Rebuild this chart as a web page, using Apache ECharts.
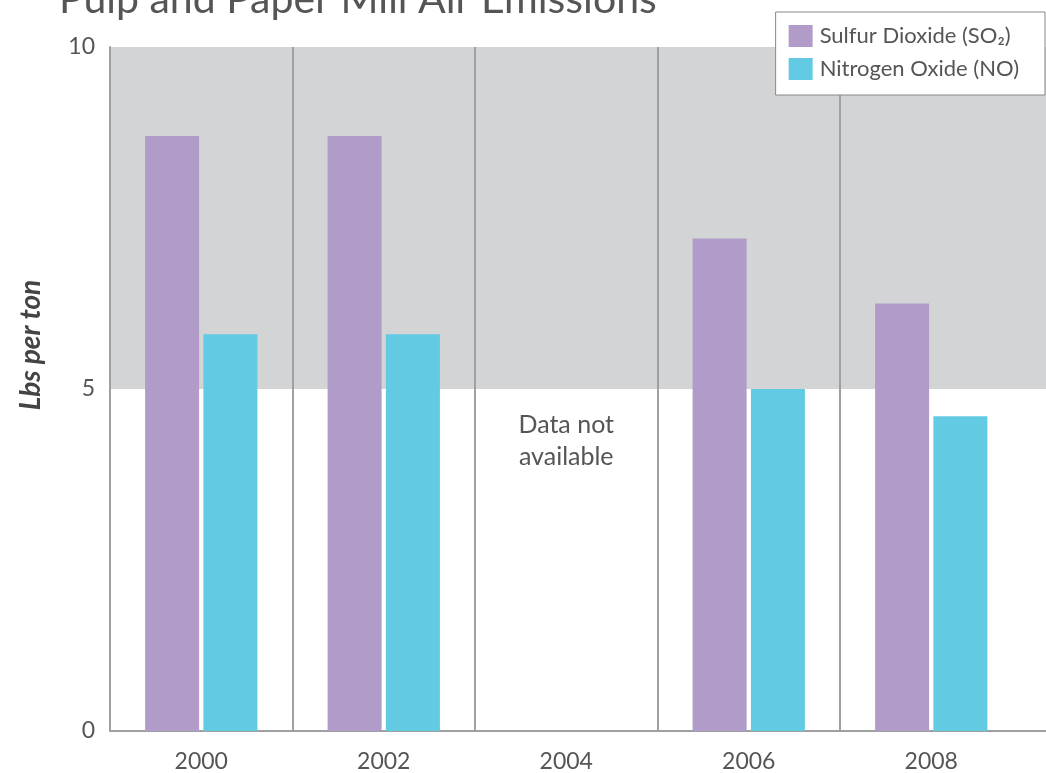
<!DOCTYPE html>
<html>
<head>
<meta charset="utf-8">
<script src="https://cdn.jsdelivr.net/npm/echarts@6/dist/echarts.min.js"></script>
<style>
  html, body { margin: 0; padding: 0; background: #fff; }
  #main { width: 1046px; height: 773px; }
</style>
</head>
<body>
<div id="main"></div>
<script>
var years = ['2000', '2002', '2004', '2006', '2008'];
var sulfurDioxide = [8.7, 8.7, null, 7.2, 6.25];
var nitrogenOxide = [5.8, 5.8, null, 5.0, 4.6];
var yTicks = [0, 5, 10];

var textColor = '#555';
var lineColor = '#a0a0a0';
var fontFamily = 'Lato, "Open Sans", sans-serif';

var chart = echarts.init(document.getElementById('main'));

var option = {
    animation: false,
    textStyle: { fontFamily: fontFamily },
    title: {
        text: 'Pulp and Paper Mill Air Emissions',
        left: 54,
        top: -26,
        textStyle: { fontSize: 41, fontWeight: 'normal', color: textColor, fontFamily: fontFamily }
    },
    legend: {
        orient: 'vertical',
        right: 1,
        top: 12,
        data: ['Sulfur Dioxide (SO₂)', 'Nitrogen Oxide (NO)'],
        backgroundColor: '#fff',
        borderColor: '#888',
        borderWidth: 1,
        padding: [13, 26, 15, 13],
        itemWidth: 24,
        itemHeight: 22,
        itemGap: 11,
        icon: 'rect',
        textStyle: { fontSize: 22, color: textColor, fontFamily: fontFamily, padding: [0, 0, 0, 2] },
        z: 20
    },
    grid: [
        // wide background grid: shaded band, y axis, x axis line
        { left: 110, right: 0, top: 47, bottom: 42 },
        // bar grid: five equal year cells
        { left: 110, width: 912.5, top: 47, bottom: 42 }
    ],
    xAxis: [
        {
            gridIndex: 0, type: 'value', min: 0, max: 1,
            axisLine: { show: true, lineStyle: { color: lineColor, width: 2 } },
            axisTick: { show: false }, axisLabel: { show: false }, splitLine: { show: false },
            z: 3
        },
        {
            gridIndex: 1, type: 'category', data: years,
            axisLine: { show: false }, axisTick: { show: false },
            axisLabel: { fontSize: 23, color: textColor, margin: 19, fontFamily: fontFamily },
            splitLine: { show: true, showMaxLine: false, lineStyle: { color: lineColor, width: 2 } },
            z: 3
        }
    ],
    yAxis: [
        {
            gridIndex: 0, type: 'value', min: yTicks[0], max: yTicks[yTicks.length - 1], interval: 5,
            axisLine: { show: true, lineStyle: { color: lineColor, width: 2 } },
            axisTick: { show: false },
            axisLabel: { fontSize: 23, color: textColor, margin: 15, fontFamily: fontFamily },
            splitLine: { show: false },
            z: 3
        },
        {
            gridIndex: 1, type: 'value', min: yTicks[0], max: yTicks[yTicks.length - 1], interval: 5,
            show: false
        }
    ],
    graphic: [
        {
            type: 'text',
            x: 31, y: 345,
            rotation: Math.PI / 2,
            style: {
                text: 'Lbs per ton',
                fill: '#444',
                font: 'italic bold 28px ' + fontFamily,
                align: 'center',
                verticalAlign: 'middle'
            }
        }
    ],
    series: [
        {
            type: 'line',
            xAxisIndex: 0, yAxisIndex: 0,
            data: [],
            silent: true,
            z: 1,
            markArea: {
                silent: true,
                itemStyle: { color: '#d3d4d6' },
                data: [[{ yAxis: 5 }, { yAxis: 10 }]]
            }
        },
        {
            // note for the missing year
            type: 'line',
            xAxisIndex: 1, yAxisIndex: 1,
            data: [],
            silent: true,
            z: 5,
            markPoint: {
                symbol: 'circle',
                symbolSize: 0,
                label: {
                    show: true,
                    formatter: 'Data not\navailable',
                    fontSize: 25,
                    lineHeight: 32,
                    color: textColor,
                    fontFamily: fontFamily,
                    position: 'inside'
                },
                data: [{ coord: ['2004', 4.24], value: 0 }]
            }
        },
        {
            name: 'Sulfur Dioxide (SO₂)',
            type: 'bar',
            xAxisIndex: 1, yAxisIndex: 1,
            data: sulfurDioxide,
            barWidth: 54,
            barGap: '8%',
            itemStyle: { color: '#b19bc9' },
            z: 4
        },
        {
            name: 'Nitrogen Oxide (NO)',
            type: 'bar',
            xAxisIndex: 1, yAxisIndex: 1,
            data: nitrogenOxide,
            barWidth: 54,
            barGap: '8%',
            itemStyle: { color: '#62cae3' },
            z: 4
        }
    ]
};

chart.setOption(option);
</script>
</body>
</html>
